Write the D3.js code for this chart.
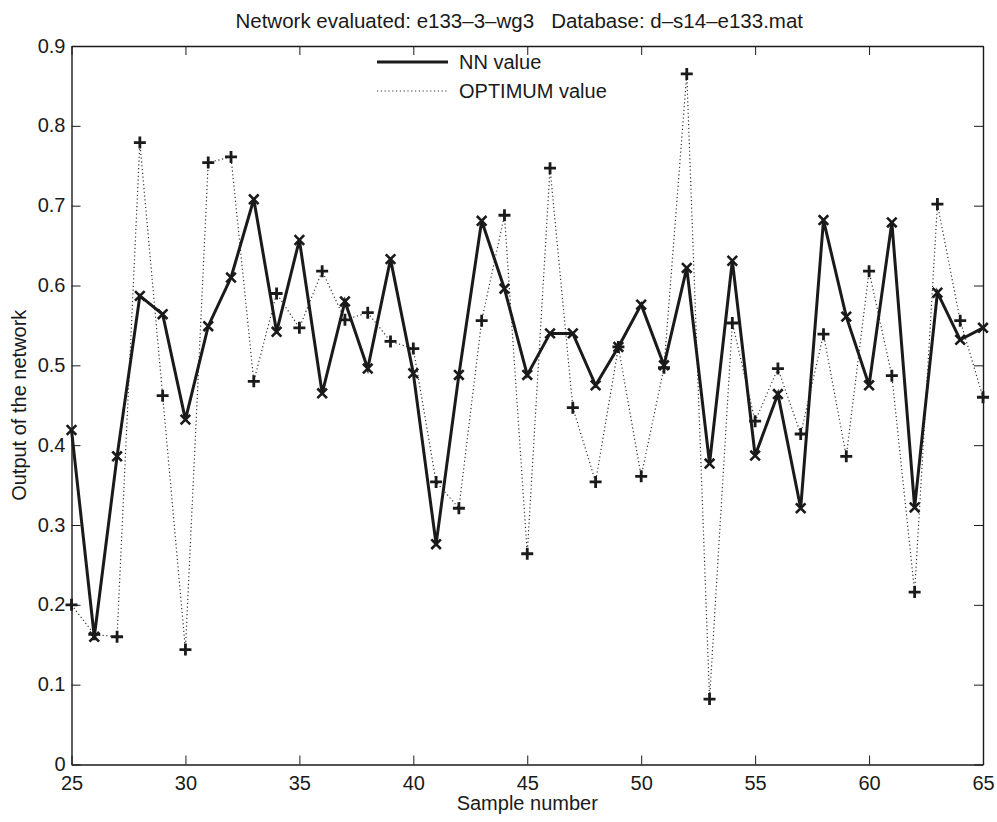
<!DOCTYPE html>
<html>
<head>
<meta charset="utf-8">
<script src="https://cdn.jsdelivr.net/npm/d3@7"></script>
<style>
  html, body { margin: 0; padding: 0; background: #fff; }
  svg { display: block; }
  text { font-family: "Liberation Sans", Arial, Helvetica, sans-serif; fill: #1a1a1a; white-space: pre; }
</style>
</head>
<body>
<svg id="chart" width="997" height="822"></svg>
<script>
// ---- data ----
const samples = d3.range(25, 66);
const nnValues = [
  0.419, 0.160, 0.386, 0.587, 0.564, 0.432, 0.549, 0.610, 0.708, 0.542,
  0.657, 0.465, 0.580, 0.496, 0.633, 0.490, 0.276, 0.488, 0.681, 0.596,
  0.488, 0.540, 0.540, 0.475, 0.523, 0.576, 0.500, 0.622, 0.377, 0.631,
  0.387, 0.464, 0.321, 0.682, 0.561, 0.475, 0.679, 0.322, 0.591, 0.532,
  0.547
];
const optValues = [
  0.200, 0.163, 0.160, 0.779, 0.462, 0.144, 0.754, 0.761, 0.480, 0.590,
  0.547, 0.618, 0.557, 0.566, 0.530, 0.521, 0.354, 0.321, 0.556, 0.688,
  0.264, 0.747, 0.447, 0.354, 0.523, 0.361, 0.497, 0.865, 0.082, 0.553,
  0.430, 0.496, 0.414, 0.539, 0.386, 0.618, 0.487, 0.216, 0.702, 0.556,
  0.460
];
const xTicks = [25, 30, 35, 40, 45, 50, 55, 60, 65];
const yTicks = [0, 0.1, 0.2, 0.3, 0.4, 0.5, 0.6, 0.7, 0.8, 0.9];
const titleText = "Network evaluated: e133\u20133\u2013wg3   Database: d\u2013s14\u2013e133.mat";
const xLabel = "Sample number";
const yLabel = "Output of the network";
const legendLabels = ["NN value", "OPTIMUM value"];

// ---- layout ----
const svg = d3.select("#chart");
const margin = { left: 71.5, right: 997 - 983, top: 46, bottom: 822 - 764.5 };
const W = 997 - margin.left - margin.right;
const H = 822 - margin.top - margin.bottom;
const fs = 20;
const ink = "#1a1a1a";

const x = d3.scaleLinear().domain([25, 65]).range([0, W]);
const y = d3.scaleLinear().domain([0, 0.9]).range([H, 0]);

const g = svg.append("g").attr("transform", `translate(${margin.left},${margin.top})`);

// axes with inward ticks
const tickLen = 9;
const fmtY = d => d === 0 ? "0" : d3.format(".1f")(d);

const axB = g.append("g").attr("transform", `translate(0,${H})`)
  .call(d3.axisBottom(x).tickValues(xTicks).tickSizeInner(-tickLen).tickSizeOuter(0).tickPadding(11));
const axL = g.append("g")
  .call(d3.axisLeft(y).tickValues(yTicks).tickFormat(fmtY).tickSizeInner(-tickLen).tickSizeOuter(0).tickPadding(6));
const axT = g.append("g")
  .call(d3.axisTop(x).tickValues(xTicks).tickSizeInner(-tickLen).tickSizeOuter(0).tickFormat(""));
const axR = g.append("g").attr("transform", `translate(${W},0)`)
  .call(d3.axisRight(y).tickValues(yTicks).tickSizeInner(-tickLen).tickSizeOuter(0).tickFormat(""));

[axB, axL, axT, axR].forEach(a => {
  a.selectAll("path.domain").attr("stroke", ink).attr("stroke-width", 1.4);
  a.selectAll(".tick line").attr("stroke", ink).attr("stroke-width", 1);
  a.selectAll(".tick text").attr("font-size", fs).attr("fill", ink)
    .style("font-family", '"Liberation Sans", Arial, sans-serif');
});
axB.selectAll(".tick text").attr("dy", "0.71em");
axL.selectAll(".tick text").attr("dy", "0.3em");

// ---- lines ----
const nnData = samples.map((s, i) => [s, nnValues[i]]);
const optData = samples.map((s, i) => [s, optValues[i]]);
const line = d3.line().x(d => x(d[0])).y(d => y(d[1]));

g.append("path").datum(optData)
  .attr("d", line).attr("fill", "none")
  .attr("stroke", "#333").attr("stroke-width", 1.2)
  .attr("stroke-dasharray", "1.2,2.6");

g.append("path").datum(nnData)
  .attr("d", line).attr("fill", "none")
  .attr("stroke", ink).attr("stroke-width", 3)
  .attr("stroke-linejoin", "miter");

// markers
const xs = 4.8; // half size of x-marker
g.append("g").selectAll("path").data(nnData).join("path")
  .attr("transform", d => `translate(${x(d[0])},${y(d[1])})`)
  .attr("d", `M${-xs},${-xs}L${xs},${xs}M${-xs},${xs}L${xs},${-xs}`)
  .attr("stroke", ink).attr("stroke-width", 2.6).attr("fill", "none");

const ps = 6; // half size of plus marker
g.append("g").selectAll("path").data(optData).join("path")
  .attr("transform", d => `translate(${x(d[0])},${y(d[1])})`)
  .attr("d", `M${-ps},0L${ps},0M0,${-ps}L0,${ps}`)
  .attr("stroke", ink).attr("stroke-width", 2.8).attr("fill", "none");

// ---- legend ----
const lg = svg.append("g").attr("transform", "translate(377,0)");
const legendRows = [
  { label: legendLabels[0], y: 62, solid: true },
  { label: legendLabels[1], y: 91, solid: false }
];
legendRows.forEach(r => {
  const l = lg.append("line").attr("x1", 0).attr("x2", 71).attr("y1", r.y).attr("y2", r.y)
    .attr("stroke", ink);
  if (r.solid) l.attr("stroke-width", 3);
  else l.attr("stroke-width", 1.2).attr("stroke-dasharray", "1.2,2.6").attr("stroke", "#333");
  lg.append("text").attr("x", 82).attr("y", r.y).attr("dy", "0.35em")
    .attr("font-size", fs).text(r.label);
});

// ---- titles ----
svg.append("text").attr("x", margin.left + W / 2 - 8).attr("y", 28)
  .attr("text-anchor", "middle").attr("font-size", 20.5).text(titleText);
svg.append("text").attr("x", margin.left + W / 2).attr("y", 810)
  .attr("text-anchor", "middle").attr("font-size", fs).text(xLabel);
svg.append("text").attr("transform", `translate(26,${margin.top + H / 2}) rotate(-90)`)
  .attr("text-anchor", "middle").attr("font-size", fs).text(yLabel);
</script>
</body>
</html>
